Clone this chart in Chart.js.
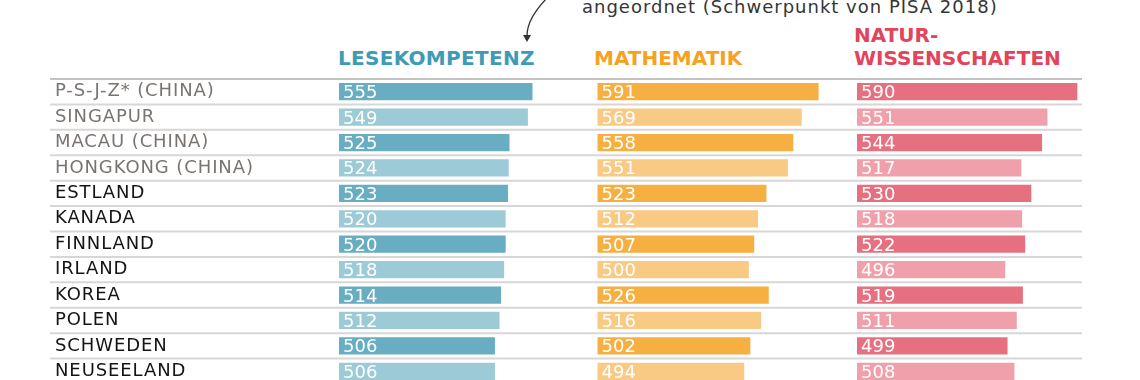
<!DOCTYPE html>
<html>
<head>
<meta charset="utf-8">
<script src="https://cdn.jsdelivr.net/npm/chart.js@4"></script>
<style>
  html, body { margin: 0; padding: 0; background: #ffffff; }
  body { width: 1140px; height: 380px; overflow: hidden; position: relative; font-family: "DejaVu Sans", sans-serif; }
  .abs { position: absolute; white-space: nowrap; }
  .hdr { font-weight: bold; font-size: 20px; line-height: 23px; }
  canvas { position: absolute; top: 0; }
</style>
</head>
<body>
<div class="abs" id="note" style="left:582px; top:-2px; font-size:18px; line-height:18px; color:#353535; letter-spacing:1px;"></div>
<svg class="abs" style="left:0; top:0;" width="1140" height="60">
  <path d="M546,-1 C536,10 527,22 527,36" fill="none" stroke="#333" stroke-width="1.3"/>
  <polygon points="523,35 531,35 527,42" fill="#333"/>
</svg>
<div class="abs hdr" id="h1" style="left:338px; top:47px; color:#3e9bb6; letter-spacing:0.3px;"></div>
<div class="abs hdr" id="h2" style="left:594px; top:47px; color:#f7a21f;"></div>
<div class="abs hdr" id="h3" style="left:854px; top:24px; color:#e1445b;"></div>

<canvas id="c1" width="582" height="400" style="left:0px;"></canvas>
<canvas id="c2" width="259" height="400" style="left:582px;"></canvas>
<canvas id="c3" width="299" height="400" style="left:841px;"></canvas>

<script>
// ---- data ----
const noteText = 'angeordnet (Schwerpunkt von PISA 2018)';
const headers = ['LESEKOMPETENZ', 'MATHEMATIK', 'NATUR-\nWISSENSCHAFTEN'];
const countries = ['P-S-J-Z* (CHINA)', 'SINGAPUR', 'MACAU (CHINA)', 'HONGKONG (CHINA)', 'ESTLAND', 'KANADA', 'FINNLAND', 'IRLAND', 'KOREA', 'POLEN', 'SCHWEDEN', 'NEUSEELAND'];
const oecdMember = [false, false, false, false, true, true, true, true, true, true, true, true];
const lesen = [555, 549, 525, 524, 523, 520, 520, 518, 514, 512, 506, 506];
const mathe = [591, 569, 558, 551, 523, 512, 507, 500, 526, 516, 502, 494];
const natur = [590, 551, 544, 517, 530, 518, 522, 496, 519, 511, 499, 508];
const axisMin = 300;
const axisMax = 600;

document.getElementById('note').textContent = noteText;
document.getElementById('h1').textContent = headers[0];
document.getElementById('h2').textContent = headers[1];
document.getElementById('h3').innerHTML = headers[2].replace('\n', '<br>');

const FONT = '"DejaVu Sans", sans-serif';

function makeChart(id, values, dark, light, cfg) {
  const rowLines = {
    id: 'rowLines',
    beforeDraw(chart) {
      if (cfg.showLabels) chart.ctx.letterSpacing = '0.9px';
    },
    beforeDatasetsDraw(chart) {
      const ctx = chart.ctx;
      const ys = chart.scales.y;
      const step = ys.getPixelForValue(1) - ys.getPixelForValue(0);
      ctx.save();
      ctx.lineWidth = 2;
      for (let i = 0; i <= values.length; i++) {
        const y = ys.getPixelForValue(i) - step / 2;
        ctx.strokeStyle = i === 0 ? '#c2c2c2' : '#d7d7d7';
        ctx.beginPath();
        ctx.moveTo(cfg.lineFrom, y);
        ctx.lineTo(cfg.lineTo, y);
        ctx.stroke();
      }
      ctx.restore();
    },
    afterDatasetsDraw(chart) {
      const ctx = chart.ctx;
      const meta = chart.getDatasetMeta(0);
      const left = chart.scales.x.getPixelForValue(axisMin);
      ctx.save();
      ctx.letterSpacing = '0px';
      ctx.font = '18px ' + FONT;
      ctx.fillStyle = '#ffffff';
      ctx.textAlign = 'left';
      ctx.textBaseline = 'alphabetic';
      meta.data.forEach((bar, i) => {
        const p = bar.getProps(['y'], true);
        ctx.fillText(String(values[i]), left + 5, p.y + 6.5);
      });
      ctx.restore();
    }
  };

  return new Chart(document.getElementById(id), {
    type: 'bar',
    data: {
      labels: countries,
      datasets: [{
        data: values,
        base: axisMin,
        backgroundColor: values.map((v, i) => i % 2 === 0 ? dark : light),
        borderColor: 'rgba(255,255,255,0.35)',
        borderWidth: 1,
        borderSkipped: false,
        barPercentage: 0.76,
        categoryPercentage: 1.0
      }]
    },
    options: {
      indexAxis: 'y',
      responsive: false,
      animation: false,
      devicePixelRatio: 1,
      layout: { padding: { left: cfg.padLeft, right: cfg.padRight, top: 79, bottom: 16 } },
      plugins: { legend: { display: false }, tooltip: { enabled: false }, title: { display: false } },
      scales: {
        x: { type: 'linear', min: axisMin, max: axisMax, display: false },
        y: {
          type: 'category',
          offset: true,
          display: cfg.showLabels,
          grid: { display: false },
          border: { display: false },
          afterFit: (scale) => { if (cfg.showLabels) scale.width = cfg.axisWidth; },
          ticks: {
            crossAlign: 'far',
            padding: 0,
            autoSkip: false,
            font: { family: FONT, size: 18 },
            color: (c) => oecdMember[c.index] ? '#141414' : '#7a7471'
          }
        }
      }
    },
    plugins: [rowLines]
  });
}

makeChart('c1', lesen, '#68adc1', '#9ccad7', { showLabels: true, padLeft: 55, padRight: 14, axisWidth: 283, lineFrom: 50, lineTo: 582 });
makeChart('c2', mathe, '#f6b042', '#f9ca83', { showLabels: false, padLeft: 14.5, padRight: 14.5, lineFrom: 0, lineTo: 259 });
makeChart('c3', natur, '#e6707f', '#efa0aa', { showLabels: false, padLeft: 15, padRight: 54, lineFrom: 0, lineTo: 241 });
</script>
</body>
</html>
